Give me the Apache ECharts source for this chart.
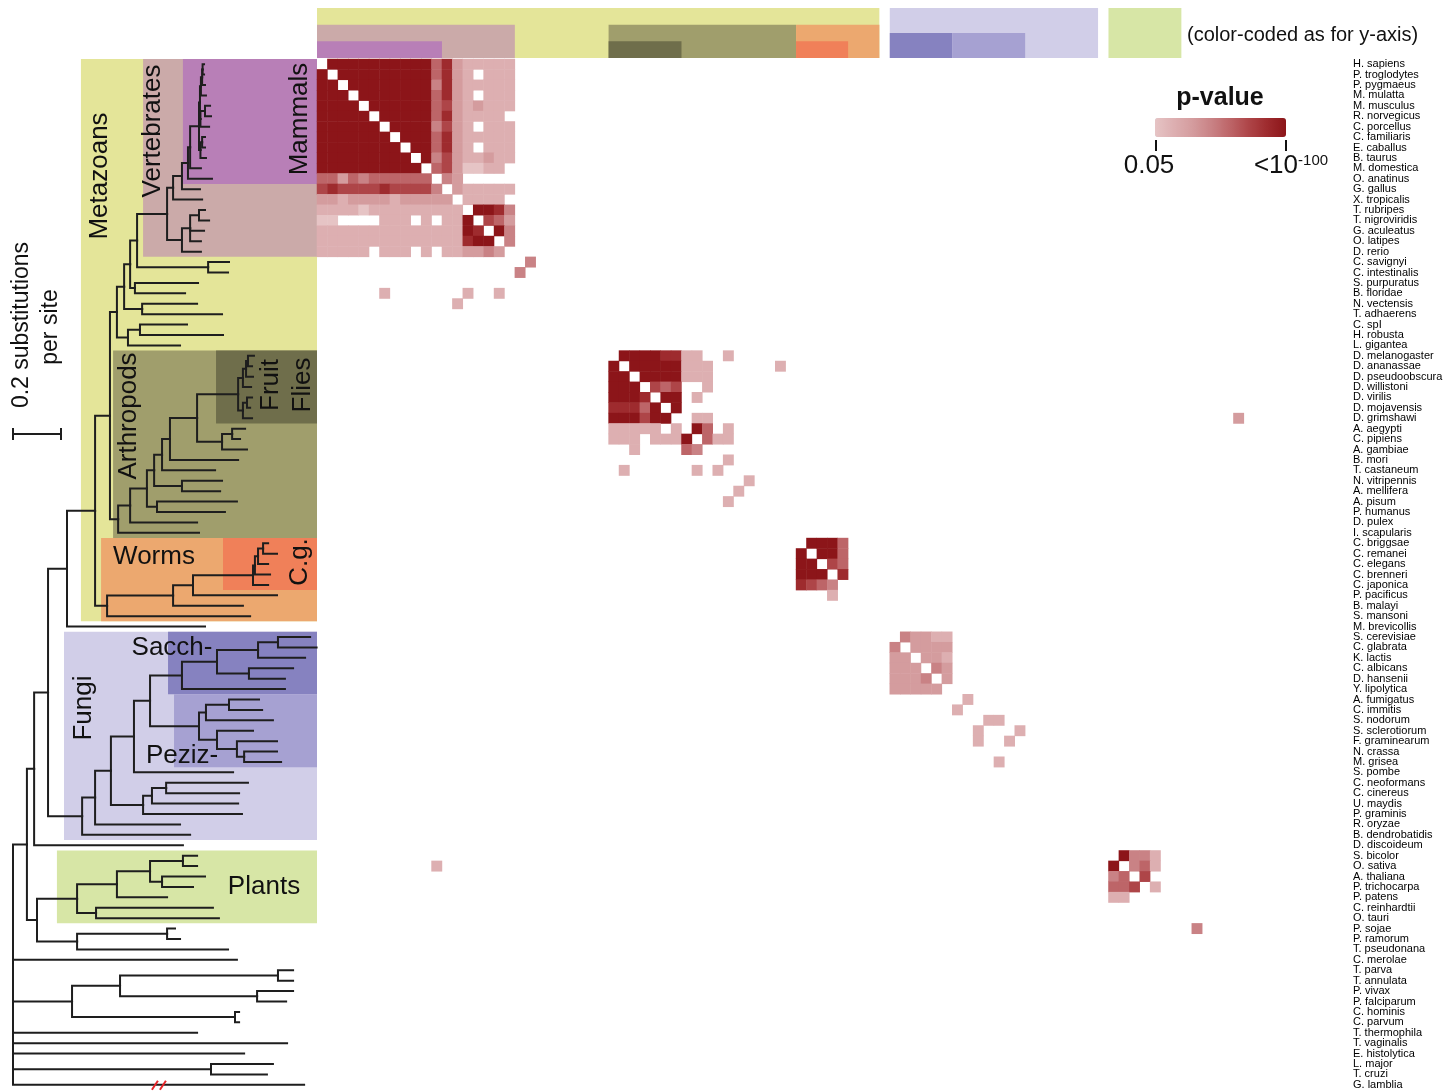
<!DOCTYPE html>
<html lang="en">
<head>
<meta charset="UTF-8">
<title>Ortholog p-value matrix</title>
<script src="https://cdn.jsdelivr.net/npm/echarts@6/dist/echarts.min.js"></script>
<style>
    html, body { margin: 0; padding: 0; background: #fff; }
    #chart { width: 1456px; height: 1091px; }
</style>
</head>
<body>
<div id="chart"></div>
<script>
// species, top to bottom = tree leaf order = matrix row / column order
var species = ['H. sapiens','P. troglodytes','P. pygmaeus','M. mulatta','M. musculus','R. norvegicus','C. porcellus',
    'C. familiaris','E. caballus','B. taurus','M. domestica','O. anatinus','G. gallus','X. tropicalis','T. rubripes',
    'T. nigroviridis','G. aculeatus','O. latipes','D. rerio','C. savignyi','C. intestinalis','S. purpuratus',
    'B. floridae','N. vectensis','T. adhaerens','C. spI','H. robusta','L. gigantea','D. melanogaster','D. ananassae',
    'D. pseudoobscura','D. willistoni','D. virilis','D. mojavensis','D. grimshawi','A. aegypti','C. pipiens',
    'A. gambiae','B. mori','T. castaneum','N. vitripennis','A. mellifera','A. pisum','P. humanus','D. pulex',
    'I. scapularis','C. briggsae','C. remanei','C. elegans','C. brenneri','C. japonica','P. pacificus','B. malayi',
    'S. mansoni','M. brevicollis','S. cerevisiae','C. glabrata','K. lactis','C. albicans','D. hansenii',
    'Y. lipolytica','A. fumigatus','C. immitis','S. nodorum','S. sclerotiorum','F. graminearum','N. crassa',
    'M. grisea','S. pombe','C. neoformans','C. cinereus','U. maydis','P. graminis','R. oryzae','B. dendrobatidis',
    'D. discoideum','S. bicolor','O. sativa','A. thaliana','P. trichocarpa','P. patens','C. reinhardtii','O. tauri',
    'P. sojae','P. ramorum','T. pseudonana','C. merolae','T. parva','T. annulata','P. vivax','P. falciparum',
    'C. hominis','C. parvum','T. thermophila','T. vaginalis','E. histolytica','L. major','T. cruzi','G. lamblia'];

// tree: [node depth, child, child, ...]; a bare number is a leaf depth.
// depth = substitutions per site from the root, leaves come in species order
var primates = [0.783, [0.788, [0.790, 0.796, 0.796], 0.800], 0.804];
var glires = [0.781, [0.800, 0.821, 0.825], 0.817];
var laurasia = [0.781, [0.788, 0.800, 0.800], 0.804];
var mammals = [0.729, [0.738, [0.775, [0.779, primates, glires], laurasia], 0.783], 0.829];
var fish = [0.704, [0.738, [0.775, 0.800, 0.817], 0.796, 0.783], 0.783];
var vertebrates = [0.642, [0.667, [0.704, mammals, 0.779], 0.788], fish];
var deutero = [0.488, [0.517, vertebrates, [0.813, 0.900, 0.896]], [0.508, 0.771, 0.717]];
var lophos = [0.479, [0.529, 0.725, 0.875], 0.696];
var flies = [0.938, [0.958, [0.971, [0.979, 1.004, 0.996], 1.000], 0.992], [0.958, [0.975, 0.996, 0.988], 0.996]];
var mosquitoes = [0.871, [0.913, 0.967, 0.946], 0.975];
var arthropods = [0.438, [0.488, [0.558, [0.588, [0.621, [0.654, [0.767, flies, mosquitoes], 0.938], 0.842],
    [0.704, 0.871, 0.863]], [0.600, 0.933, 0.883]], 0.767], 0.775];
var worms = [0.392, [0.667, [0.750, [1.000, [1.008, [1.021, [1.042, 1.063, 1.100], 1.063], 1.071], 1.063], 1.100], 0.958], 0.988];
var holozoa = [0.225, [0.342, [0.404, [0.433, [0.463, deutero, [0.538, 0.767, 0.871]], lophos], arthropods], worms], 0.800];
var sacch = [0.704, [0.850, [1.021, [1.104, 1.238, 1.265], 1.217], [0.983, 1.167, 1.133]], 1.133];
var peziz = [0.775, [0.804, [0.900, 1.025, 1.038], 1.083], [0.850, 1.000, [0.933, 1.100, [0.963, 1.100, 1.117]]]];
var basidio = [0.542, [0.579, [0.638, 0.979, 0.942], 0.938], 0.954];
var fungi = [0.288, [0.342, [0.408, [0.504, [0.571, sacch, peziz], 0.917], basidio], 0.696], 0.738];
var plants = [0.267, [0.433, [0.571, [0.708, 0.767, 0.767], [0.621, 0.800, 0.750]], 0.642], [0.346, 0.833, 0.858]];
var stramenopiles = [0.267, [0.642, 0.675, 0.696], 0.896];
var apicomplexa = [0.246, [0.446, [1.104, 1.167, 1.167], [1.017, 1.167, 1.138]], [0.925, 0.942, 0.942]];
var tree = [0, [0.058, [0.088, [0.146, holozoa, fungi], 0.708], [0.100, plants, stramenopiles]],
    0.933, apicomplexa, 0.767, 1.142, 0.963, [0.825, 1.083, 1.058], 1.213];

// clades marked on both axes: first and last species row
var clades = [
    {name: 'Metazoans', from: 0, to: 53},
    {name: 'Vertebrates', from: 0, to: 18},
    {name: 'Mammals', from: 0, to: 11},
    {name: 'Arthropods', from: 28, to: 45},
    {name: 'Fruit Flies', from: 28, to: 34},
    {name: 'Worms', from: 46, to: 53},
    {name: 'C.g.', from: 46, to: 50},
    {name: 'Fungi', from: 55, to: 74},
    {name: 'Sacch-', from: 55, to: 60},
    {name: 'Peziz-', from: 61, to: 67},
    {name: 'Plants', from: 76, to: 82}
];

// significant pairs: [row, first column, levels]; '.' = none, 2 = p 0.05 ... 9 = p < 1e-100
var pCells = [
    [0, 0, '.9999999999'], [0, 11, '68433333'],
    [1, 0, '9.999999999'], [1, 11, '6843.333'],
    [2, 0, '99.99999999'], [2, 11, '58433333'],
    [3, 0, '999.9999999'], [3, 11, '6843.333'],
    [4, 0, '9999.999999'], [4, 11, '67434333'],
    [5, 0, '99999.99999'], [5, 11, '6843333.'],
    [6, 0, '999999.9999'], [6, 11, '5743.333'],
    [7, 0, '9999999.999'], [7, 11, '68433333'],
    [8, 0, '99999999.99'], [8, 11, '6843.333'],
    [9, 0, '999999999.9'], [9, 11, '57433433'],
    [10, 0, '9999999999.'], [10, 11, '6742233'],
    [11, 0, '66465666666.54'],
    [12, 0, '78777787777'], [12, 11, '5.433333'],
    [13, 0, '4434444344444.3333'],
    [14, 0, '33332333333333.9985'],
    [15, 0, '22....333.3.339.764'],
    [16, 0, '33333333333333'], [16, 14, '98.95'],
    [17, 0, '33333333333333'], [17, 14, '899.5'],
    [18, 0, '33333.333.3.334454'],
    [19, 20, '5'], [20, 19, '5'],
    [22, 6, '3'], [22, 14, '3'], [22, 17, '3'], [23, 13, '3'],
    [28, 28, '.99998833..3'],
    [29, 28, '9.99999333'], [29, 44, '3'],
    [30, 28, '99.9999333'],
    [31, 28, '999.767..3'],
    [32, 28, '9998.99.3'],
    [33, 28, '88869.9'],
    [34, 28, '999799..33'], [34, 88, '4'],
    [35, 28, '33333.3.96.3'],
    [36, 28, '333.3339.633'],
    [37, 30, '3'], [37, 35, '65'],
    [38, 39, '3'],
    [39, 29, '3'], [39, 36, '3'], [39, 38, '3'],
    [40, 41, '3'], [41, 40, '3'], [42, 39, '3'],
    [46, 46, '.9996'], [47, 46, '9.996'], [48, 46, '99.76'], [49, 46, '999.8'], [50, 46, '8765'],
    [51, 49, '3'],
    [55, 55, '.54433'], [56, 55, '5.4444'], [57, 55, '44.443'], [58, 55, '444.54'], [59, 55, '4445.4'],
    [60, 55, '44444'],
    [61, 62, '3'], [62, 61, '3'], [63, 64, '33'], [64, 63, '3'], [64, 67, '3'], [65, 63, '3'], [65, 66, '3'],
    [67, 65, '3'],
    [76, 76, '.9553'], [77, 76, '9.563'], [78, 76, '56.7'], [79, 76, '667.3'], [80, 76, '33'],
    [77, 11, '3'], [83, 84, '5']
];

// look of the clade marks: colour, where the box starts on the tree (depth), top of the band (levels 0-3)
var cladeStyle = [
    {color: '#e4e599', boxStart: 0.283, bandTop: 3},
    {color: '#cbaaa9', boxStart: 0.542, bandTop: 2},
    {color: '#b87fb7', boxStart: 0.708, bandTop: 1},
    {color: '#a09e6c', boxStart: 0.417, bandTop: 2},
    {color: '#6f6e4b', boxStart: 0.846, bandTop: 1},
    {color: '#eca86f', boxStart: 0.367, bandTop: 2},
    {color: '#f08059', boxStart: 0.875, bandTop: 1},
    {color: '#d1cee8', boxStart: 0.2125, bandTop: 3},
    {color: '#8682c0', boxStart: 0.646, bandTop: 1.5},
    {color: '#a6a1d2', boxStart: 0.671, bandTop: 1.5},
    {color: '#d7e6a6', boxStart: 0.183, bandTop: 3}
];

var FONT = '"Liberation Sans", Arial, Helvetica, sans-serif';
var treeMax = 304 / 240;

// walk the tree: leaves get rows, nodes sit midway between first and last child
var leafNo = 0;
var segments = [];
function place(node) {
    if (typeof node === 'number') {
        return {x: node, y: leafNo++};
    }
    var kids = node.slice(1).map(place);
    var y = (kids[0].y + kids[kids.length - 1].y) / 2;
    kids.forEach(function (k) {
        segments.push([node[0], y, k.x, k.y]);
    });
    return {x: node[0], y: y};
}
place(tree);

var heat = [];
pCells.forEach(function (run) {
    for (var i = 0; i < run[2].length; i++) {
        if (run[2][i] !== '.') heat.push([run[1] + i, run[0], +run[2][i]]);
    }
});

var cols = species.map(function (s, i) { return i; });

function rotText(txt, x, y, size) {
    return {type: 'text', x: x, y: y, rotation: Math.PI / 2, z: 10,
        style: {text: txt, fill: '#111', fontSize: size, fontFamily: FONT, align: 'center', verticalAlign: 'middle'}};
}
function flatText(txt, x, y, size) {
    return {type: 'text', x: x, y: y, z: 10,
        style: {text: txt, fill: '#111', fontSize: size, fontFamily: FONT, align: 'center', verticalAlign: 'middle'}};
}

var myChart = echarts.init(document.getElementById('chart'));
var option = {
    animation: false,
    backgroundColor: '#fff',
    grid: [
        {left: 317, top: 59, width: 1031, height: 1031, containLabel: false, outerBoundsMode: 'none'},
        {left: 13, top: 59, width: 304, height: 1031, containLabel: false, outerBoundsMode: 'none'},
        {left: 317, top: 8, width: 1031, height: 50, containLabel: false, outerBoundsMode: 'none'}
    ],
    xAxis: [
        {type: 'category', gridIndex: 0, data: cols, show: false},
        {type: 'value', gridIndex: 1, min: 0, max: treeMax, show: false},
        {type: 'value', gridIndex: 2, min: 0, max: species.length, show: false}
    ],
    yAxis: [
        {type: 'category', gridIndex: 0, data: species, inverse: true, position: 'right',
            axisLine: {show: false}, axisTick: {show: false}, splitLine: {show: false},
            axisLabel: {interval: 0, margin: 5, fontSize: 11, color: '#000', fontFamily: FONT}},
        {type: 'value', gridIndex: 1, min: -0.5, max: species.length - 0.5, inverse: true, show: false},
        {type: 'value', gridIndex: 2, min: 0, max: 3, show: false}
    ],
    visualMap: {
        type: 'continuous',
        seriesIndex: 0,
        dimension: 2,
        min: 2,
        max: 9,
        orient: 'horizontal',
        left: 1155,
        top: 118,
        itemWidth: 19,
        itemHeight: 131,
        padding: 0,
        calculable: false,
        inRange: {color: ['#e6c4c5', '#ddafb1', '#d49c9e', '#c98285', '#bd6568', '#ae4548', '#9e2b2e', '#8c1519']}
    },
    series: [
        {
            type: 'heatmap',
            xAxisIndex: 0,
            yAxisIndex: 0,
            data: heat,
            itemStyle: {borderWidth: 0},
            emphasis: {disabled: true}
        },
        {
            // clade boxes behind the tree
            type: 'custom',
            xAxisIndex: 1,
            yAxisIndex: 1,
            z: 1,
            data: clades.map(function (c, i) { return [cladeStyle[i].boxStart, c.from, c.to]; }),
            renderItem: function (params, api) {
                var tl = api.coord([api.value(0), api.value(1) - 0.5]);
                var br = api.coord([treeMax, api.value(2) + 0.5]);
                return {type: 'rect', shape: {x: tl[0], y: tl[1], width: br[0] - tl[0], height: br[1] - tl[1]},
                    style: {fill: cladeStyle[params.dataIndex].color}};
            }
        },
        {
            type: 'custom',
            xAxisIndex: 1,
            yAxisIndex: 1,
            z: 3,
            data: segments,
            renderItem: function (params, api) {
                var p0 = api.coord([api.value(0), api.value(1)]);
                var p1 = api.coord([api.value(0), api.value(3)]);
                var p2 = api.coord([api.value(2), api.value(3)]);
                return {type: 'polyline', shape: {points: [p0, p1, p2]},
                    style: {stroke: '#1e1e1e', lineWidth: 2, fill: null, lineJoin: 'miter', lineCap: 'square'}};
            }
        },
        {
            // scale bar: 0.2 substitutions per site
            type: 'custom',
            xAxisIndex: 1,
            yAxisIndex: 1,
            z: 3,
            data: [[0, 0.2, 35.5]],
            renderItem: function (params, api) {
                var a = api.coord([api.value(0), api.value(2)]);
                var b = api.coord([api.value(1), api.value(2)]);
                var st = {stroke: '#1e1e1e', lineWidth: 2};
                return {type: 'group', children: [
                    {type: 'line', shape: {x1: a[0], y1: a[1], x2: b[0], y2: b[1]}, style: st},
                    {type: 'line', shape: {x1: a[0], y1: a[1] - 6, x2: a[0], y2: a[1] + 6}, style: st},
                    {type: 'line', shape: {x1: b[0], y1: b[1] - 6, x2: b[0], y2: b[1] + 6}, style: st}
                ]};
            }
        },
        {
            // broken branch of G. lamblia
            type: 'custom',
            xAxisIndex: 1,
            yAxisIndex: 1,
            z: 4,
            data: [[0.608, 98]],
            renderItem: function (params, api) {
                var p = api.coord([api.value(0), api.value(1)]);
                var st = {stroke: '#e8262a', lineWidth: 2};
                return {type: 'group', children: [
                    {type: 'line', shape: {x1: p[0] - 7, y1: p[1] + 5, x2: p[0] - 1, y2: p[1] - 4}, style: st},
                    {type: 'line', shape: {x1: p[0] + 1, y1: p[1] + 5, x2: p[0] + 7, y2: p[1] - 4}, style: st}
                ]};
            }
        },
        {
            // clade bands above the matrix
            type: 'custom',
            xAxisIndex: 2,
            yAxisIndex: 2,
            data: clades.map(function (c, i) { return [c.from, c.to, cladeStyle[i].bandTop]; }),
            renderItem: function (params, api) {
                var tl = api.coord([api.value(0), api.value(2)]);
                var br = api.coord([api.value(1) + 1, 0]);
                return {type: 'rect', shape: {x: tl[0], y: tl[1], width: br[0] - tl[0], height: br[1] - tl[1]},
                    style: {fill: cladeStyle[params.dataIndex].color}};
            }
        }
    ],
    graphic: [
        rotText('Metazoans', 100, 176, 26),
        rotText('Vertebrates', 153, 131, 26),
        rotText('Mammals', 300, 119, 26),
        rotText('Arthropods', 129, 416, 26),
        rotText('Fruit', 271, 385, 26),
        rotText('Flies', 303, 385, 26),
        flatText('Worms', 154, 557, 26),
        rotText('C.g.', 300, 562, 26),
        rotText('Fungi', 84, 708, 26),
        flatText('Sacch-', 172, 648, 26),
        flatText('Peziz-', 182, 756, 26),
        flatText('Plants', 264, 887, 26),
        rotText('0.2 substitutions', 22, 325, 23),
        rotText('per site', 51, 327, 23),
        {type: 'text', x: 1187, y: 35, z: 10,
            style: {text: '(color-coded as for y-axis)', fill: '#111', fontSize: 20, fontFamily: FONT,
                align: 'left', verticalAlign: 'middle'}},
        {type: 'text', x: 1220, y: 98, z: 10,
            style: {text: 'p-value', fill: '#111', fontSize: 25, fontWeight: 'bold', fontFamily: FONT,
                align: 'center', verticalAlign: 'middle'}},
        {type: 'line', shape: {x1: 1156, y1: 140, x2: 1156, y2: 151}, style: {stroke: '#111', lineWidth: 2}},
        {type: 'line', shape: {x1: 1286, y1: 140, x2: 1286, y2: 151}, style: {stroke: '#111', lineWidth: 2}},
        flatText('0.05', 1149, 166, 26),
        {type: 'text', x: 1291, y: 166, z: 10,
            style: {text: '<10{s|-100}', fill: '#111', fontSize: 26, fontFamily: FONT, align: 'center',
                verticalAlign: 'middle', rich: {s: {fontSize: 15, fontFamily: FONT, fill: '#111', verticalAlign: 'top'}}}}
    ]
};
myChart.setOption(option);
</script>
</body>
</html>
